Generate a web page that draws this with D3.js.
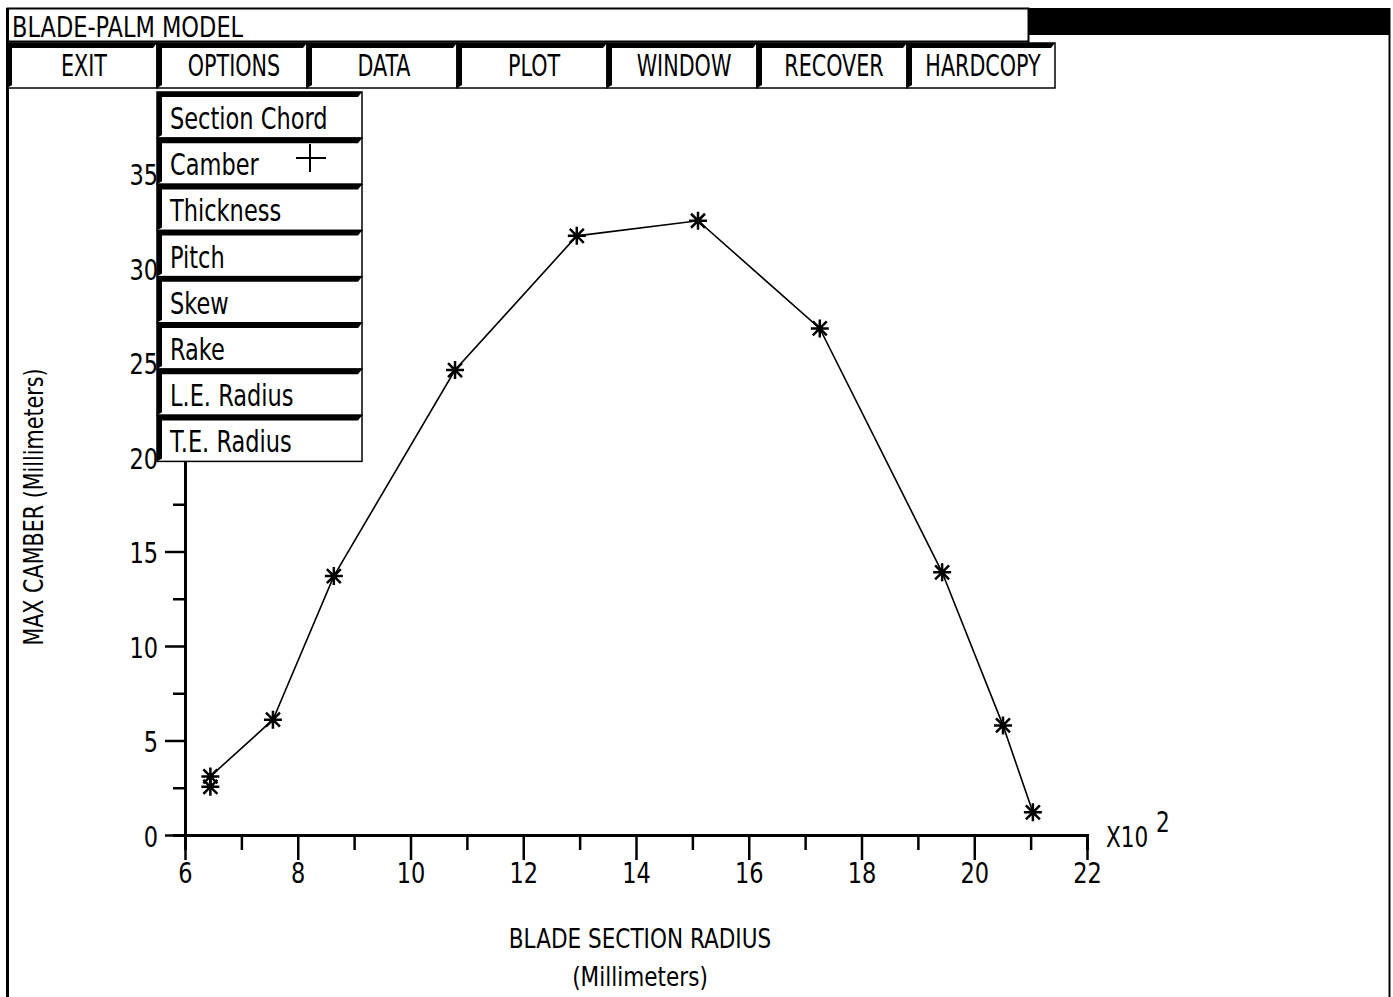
<!DOCTYPE html>
<html>
<head>
<meta charset="utf-8">
<script src="https://cdn.jsdelivr.net/npm/d3@7"></script>
<style>
  body { margin: 0; background: #fff; }
  svg { display: block; }
  text { font-family: "DejaVu Sans Condensed", "Liberation Sans Narrow", sans-serif; fill: #000; }
</style>
</head>
<body>
<svg id="svg" width="1393" height="997"></svg>
<script>
"use strict";

// chart data (x in units of 100 mm)
const radius = [6.45, 6.45, 7.56, 8.64, 10.79, 12.95, 15.1, 17.26, 19.43, 20.51, 21.04];
const camber = [2.55, 3.1, 6.1, 13.7, 24.6, 31.7, 32.5, 26.8, 13.9, 5.8, 1.2];
const xTicks = [6, 8, 10, 12, 14, 16, 18, 20, 22];
const yTicks = [0, 5, 10, 15, 20, 25, 30, 35];

const title = "BLADE-PALM MODEL";
const menuItems = ["EXIT", "OPTIONS", "DATA", "PLOT", "WINDOW", "RECOVER", "HARDCOPY"];
const optionItems = ["Section Chord", "Camber", "Thickness", "Pitch", "Skew", "Rake", "L.E. Radius", "T.E. Radius"];

const svg = d3.select("svg");

const x = d3.scaleLinear().domain([6, 22]).range([185, 1087]);
const y = d3.scaleLinear().domain([0, 35]).range([835, 173.5]);

// tall, narrow lettering like the old vector font
function tallText(g, tx, ty, size, sy, str) {
    return g.append("text")
        .attr("transform", "translate(" + tx + "," + ty + ") scale(1," + sy + ")")
        .attr("font-size", size)
        .text(str);
}

// ---- plot ----
var plot = svg.append("g");

// x axis with long ticks at labeled values, short at the others
var xAxis = plot.append("g")
    .attr("transform", "translate(0," + y(0) + ")")
    .call(d3.axisBottom(x).tickValues(xTicks).tickSize(25).tickSizeOuter(0).tickFormat(d3.format("d")));
plot.append("g")
    .attr("transform", "translate(0," + y(0) + ")")
    .call(d3.axisBottom(x).tickValues(d3.range(7, 22, 2)).tickSize(15).tickFormat(""));

var yAxis = plot.append("g")
    .attr("transform", "translate(" + x(6) + ",0)")
    .call(d3.axisLeft(y).tickValues(yTicks).tickSize(20).tickSizeOuter(0).tickFormat(d3.format("d")));
plot.append("g")
    .attr("transform", "translate(" + x(6) + ",0)")
    .call(d3.axisLeft(y).tickValues(d3.range(2.5, 36, 5)).tickSize(12).tickFormat(""));

plot.selectAll(".domain").attr("stroke", "#000").attr("stroke-width", 3);
plot.selectAll(".tick line").attr("stroke", "#000").attr("stroke-width", 2.5);
xAxis.selectAll(".tick text").attr("font-size", 25).attr("y", 0).attr("dy", null)
    .attr("transform", "translate(0,48) scale(1,1.12)");
yAxis.selectAll(".tick text").attr("font-size", 25).attr("x", 0).attr("dy", null)
    .attr("transform", "translate(-27,11) scale(1,1.12)");

svg.selectAll(".tick text").style("font-family", "\"DejaVu Sans Condensed\", sans-serif").attr("fill", "#000");

// exponent label
tallText(plot, 1106, 847, 24, 1.15, "X10");
tallText(plot, 1156, 832, 24, 1.15, "2");

// axis titles
tallText(plot, 640, 948, 24, 1.1, "BLADE SECTION RADIUS").attr("text-anchor", "middle");
tallText(plot, 640, 986, 24, 1.1, "(Millimeters)").attr("text-anchor", "middle");
plot.append("text").attr("font-size", 23).attr("text-anchor", "middle")
    .attr("transform", "translate(43,507) rotate(-90) scale(1,1.15)").text("MAX CAMBER (Millimeters)");

// data line
var pts = radius.map((r, i) => [x(r), y(camber[i])]);
plot.append("path")
    .attr("d", d3.line()(pts))
    .attr("fill", "none").attr("stroke", "#000").attr("stroke-width", 1.6);

// asterisk markers
const star = "M0,-9V9M-9,0H9M-7,-7L7,7M-7,7L7,-7";
plot.selectAll(".star")
    .data(pts)
    .enter()
    .append("path")
        .attr("class", "star")
        .attr("transform", d => "translate(" + d[0] + "," + d[1] + ")")
        .attr("d", star)
        .attr("stroke", "#000").attr("stroke-width", 2.5);

// ---- window frame ----
var frame = svg.append("g").attr("fill", "none").attr("stroke", "#000");
frame.append("line").attr("x1", 7.5).attr("x2", 7.5).attr("y1", 8).attr("y2", 997).attr("stroke-width", 3);
frame.append("line").attr("x1", 1389.5).attr("x2", 1389.5).attr("y1", 8).attr("y2", 997).attr("stroke-width", 2);
frame.append("rect").attr("x", 7.5).attr("y", 8.5).attr("width", 1021).attr("height", 33).attr("stroke-width", 2);
svg.append("rect").attr("x", 1028).attr("y", 8).attr("width", 361).attr("height", 27).attr("fill", "#000");
tallText(svg, 12, 37, 25, 1.15, title);

// ---- 3D buttons ----
function button(g, x0, y0, w, h) {
    g.append("rect").attr("x", x0).attr("y", y0).attr("width", w).attr("height", h)
        .attr("fill", "#fff").attr("stroke", "#000").attr("stroke-width", 1.5);
    g.append("path")
        .attr("d", "M" + x0 + "," + y0 + "H" + (x0 + w) + "L" + (x0 + w - 4) + "," + (y0 + 5) + "H" + x0 + "Z")
        .attr("fill", "#000");
    g.append("path")
        .attr("d", "M" + x0 + "," + y0 + "L" + (x0 + 5) + "," + (y0 + 4) + "V" + (y0 + h - 3) + "L" + x0 + "," + (y0 + h) + "Z")
        .attr("fill", "#000");
}

var menu = svg.append("g");
menuItems.forEach(function(m, i) {
    var x0 = 7 + i * 150, w = (i === menuItems.length - 1) ? 148 : 150;
    button(menu, x0, 43, w, 45);
    tallText(menu, x0 + w / 2 + 2, 76, 23, 1.3, m).attr("text-anchor", "middle");
});

var drop = svg.append("g");
optionItems.forEach(function(m, i) {
    var y0 = 92 + i * 46.2;
    button(drop, 157, y0, 205, 46);
    tallText(drop, 170, y0 + 37, 25, 1.2, m);
});

// cursor
svg.append("path").attr("d", "M296,158H326M310,144V172").attr("stroke", "#000").attr("stroke-width", 2);
</script>
</body>
</html>
